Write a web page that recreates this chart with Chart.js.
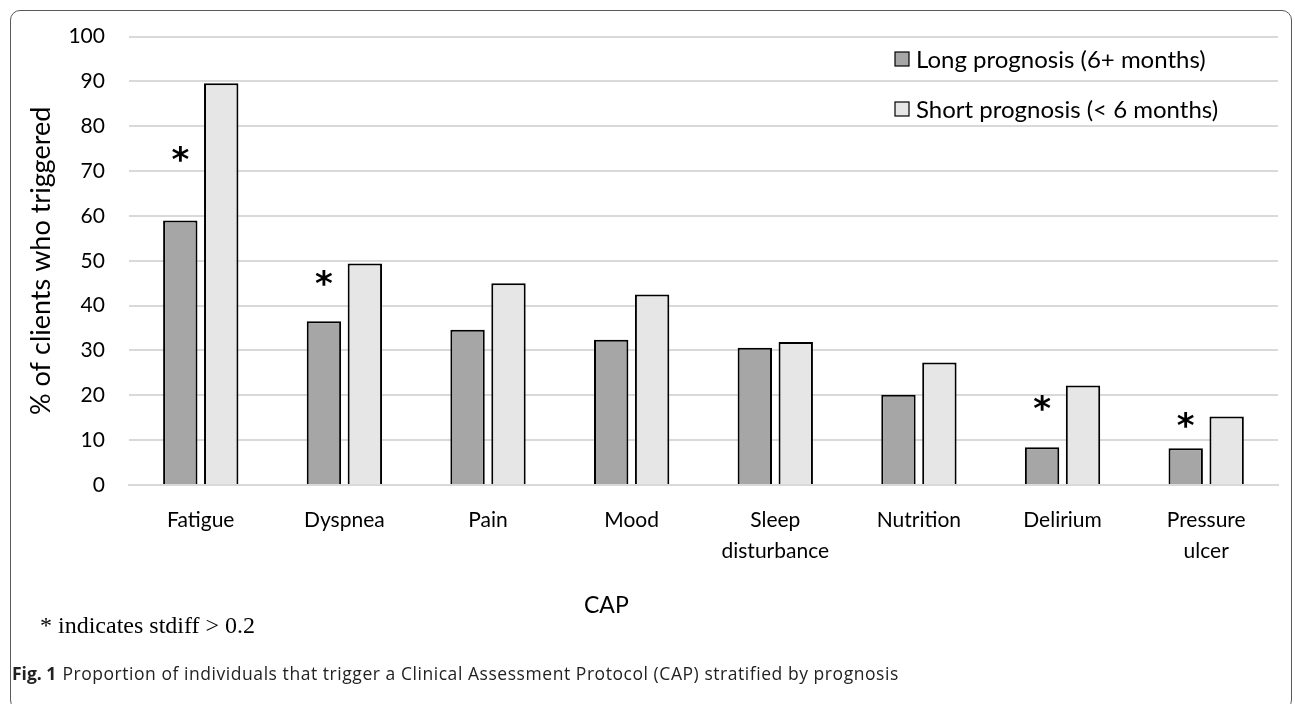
<!DOCTYPE html>
<html>
<head>
<meta charset="utf-8">
<script src="https://cdn.jsdelivr.net/npm/chart.js@4"></script>
<style>
  body { margin: 0; background: #fff; }
  #wrap { position: relative; width: 1295px; height: 704px; overflow: hidden; }
  #frame { position: absolute; left: 10px; top: 10px; width: 1282px; height: 700px;
           border: 1.5px solid #5a5a5a; border-radius: 10px; box-sizing: border-box; }
  canvas { position: absolute; left: 0; top: 0; }
  #cap { position: absolute; left: 584px; top: 590px; font-family: Lato, sans-serif; font-size: 23px; color: #000; }
  #note { position: absolute; left: 40px; top: 612px; font-family: "Liberation Serif", serif;
          font-size: 24px; color: #000; }
  #caption { position: absolute; left: 12px; top: 661px; font-family: "Open Sans", sans-serif;
             font-size: 17.5px; color: #222; letter-spacing: 0.55px; }
  #caption b { font-weight: 700; margin-right: 6px; letter-spacing: 0; }
</style>
</head>
<body>
<div id="wrap">
  <div id="frame"></div>
  <canvas id="chart" width="1295" height="704"></canvas>
  <div id="cap">CAP</div>
  <div id="note">* indicates stdiff &gt; 0.2</div>
  <div id="caption"><b>Fig. 1</b>Proportion of individuals that trigger a Clinical Assessment Protocol (CAP) stratified by prognosis</div>
</div>
<script>
const categories = ['Fatigue', 'Dyspnea', 'Pain', 'Mood', ['Sleep', 'disturbance'], 'Nutrition', 'Delirium', ['Pressure', 'ulcer']]
const longPrognosis = [59, 36.5, 34.6, 32.4, 30.6, 20.1, 8.4, 8.2]
const shortPrognosis = [89.6, 49.4, 45.0, 42.5, 31.9, 27.3, 22.2, 15.3]
// asterisk shown where stdiff > 0.2 (value = level where the * sits)
const starLevels = [73.3, 45.6, null, null, null, null, 17.8, 14]
const yTicks = [0, 10, 20, 30, 40, 50, 60, 70, 80, 90, 100]

const FONT = 'Lato, "Open Sans", sans-serif'

// draws the vertical legend box in the top right corner of the plot
const sideLegend = {
  id: 'sideLegend',
  afterDraw(chart) {
    const ctx = chart.ctx
    ctx.save()
    ctx.font = '24px ' + FONT
    ctx.textBaseline = 'middle'
    chart.data.datasets.forEach((ds, i) => {
      const x = 895
      const y = 59 + i * 50
      ctx.fillStyle = ds.backgroundColor
      ctx.fillRect(x, y - 7, 14, 14)
      ctx.strokeStyle = '#000'
      ctx.lineWidth = 1.2
      ctx.strokeRect(x, y - 7, 14, 14)
      ctx.fillStyle = '#000'
      ctx.fillText(ds.label, x + 21, y + 1)
    })
    ctx.restore()
  }
}

const stars = {
  id: 'stars',
  afterDatasetsDraw(chart) {
    const ctx = chart.ctx
    const meta = chart.getDatasetMeta(0)
    const y = chart.scales.y
    ctx.save()
    ctx.font = 'bold 34px "DejaVu Sans", sans-serif'
    ctx.fillStyle = '#000'
    ctx.textAlign = 'center'
    ctx.textBaseline = 'middle'
    starLevels.forEach((lvl, i) => {
      if (lvl === null) return
      ctx.fillText('*', meta.data[i].x, y.getPixelForValue(lvl) + 6)
    })
    ctx.restore()
  }
}

new Chart(document.getElementById('chart'), {
  type: 'bar',
  data: {
    labels: categories,
    datasets: [
      { label: 'Long prognosis (6+ months)', data: longPrognosis, backgroundColor: '#a6a6a6',
        borderColor: '#000', borderWidth: 2, borderSkipped: 'bottom' },
      { label: 'Short prognosis (< 6 months)', data: shortPrognosis, backgroundColor: '#e6e6e6',
        borderColor: '#000', borderWidth: 2, borderSkipped: 'bottom' }
    ]
  },
  options: {
    responsive: false,
    animation: false,
    devicePixelRatio: 1,
    categoryPercentage: 0.57,
    barPercentage: 0.84,
    layout: { padding: { left: 23, right: 17, top: 25, bottom: 118 } },
    plugins: { legend: { display: false }, tooltip: { enabled: false } },
    scales: {
      x: {
        grid: { display: false, drawTicks: false },
        border: { color: '#d9d9d9', width: 2 },
        ticks: { color: '#000', font: { family: FONT, size: 21, lineHeight: 1.5 }, padding: 19, maxRotation: 0, autoSkip: false }
      },
      y: {
        min: 0, max: 100,
        afterBuildTicks: (axis) => { axis.ticks = yTicks.map(v => ({ value: v })) },
        grid: { color: '#d9d9d9', lineWidth: 2, drawTicks: false },
        border: { display: false },
        ticks: { color: '#000', font: { family: FONT, size: 21 }, padding: 24 },
        title: { display: true, text: '% of clients who triggered', color: '#000', font: { family: FONT, size: 27 }, padding: { top: 2, bottom: -13 } }
      }
    }
  },
  plugins: [stars, sideLegend]
})
</script>
</body>
</html>
